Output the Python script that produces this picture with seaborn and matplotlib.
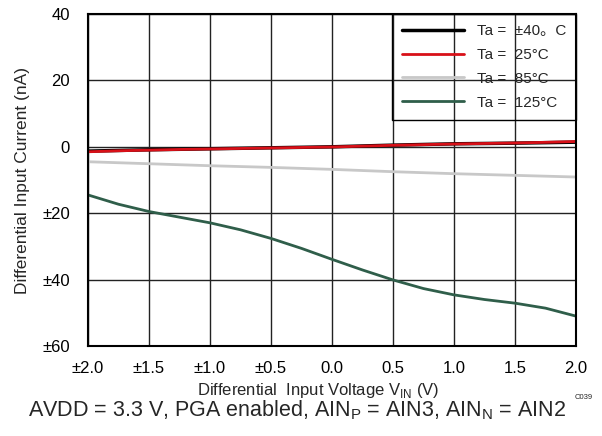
import matplotlib
matplotlib.use("Agg")
import matplotlib.pyplot as plt
import seaborn as sns
import pandas as pd

x_vals = [-2.0, -1.75, -1.5, -1.25, -1.0, -0.75, -0.5, -0.25, 0.0, 0.25, 0.5, 0.75, 1.0, 1.25, 1.5, 1.75, 2.0]
i_m40 = [-1.3, -1.1, -0.9, -0.75, -0.6, -0.45, -0.3, -0.15, 0.0, 0.25, 0.5, 0.7, 0.9, 1.0, 1.1, 1.25, 1.4]
i_25 = [-1.5, -1.2, -1.0, -0.8, -0.65, -0.5, -0.35, -0.2, -0.05, 0.2, 0.45, 0.65, 0.85, 1.0, 1.15, 1.35, 1.6]
i_85 = [-4.5, -4.8, -5.1, -5.4, -5.7, -5.95, -6.2, -6.5, -6.8, -7.15, -7.5, -7.8, -8.1, -8.35, -8.6, -8.85, -9.1]
i_125 = [-14.5, -17.3, -19.5, -21.2, -22.9, -25.0, -27.6, -30.6, -33.9, -37.1, -40.1, -42.7, -44.6, -46.0, -47.1, -48.6, -51.0]

series_names = ["Ta =  \u00b140\u3002C", "Ta =  25\u00b0C", "Ta =  85\u00b0C", "Ta =  125\u00b0C"]
colors = ["#000000", "#d81018", "#c8c8c8", "#2f5e4a"]
widths = [2.5, 2.0, 2.0, 2.0]

x_ticks = [-2.0, -1.5, -1.0, -0.5, 0.0, 0.5, 1.0, 1.5, 2.0]
x_ticklabels = ["\u00b12.0", "\u00b11.5", "\u00b11.0", "\u00b10.5", "0.0", "0.5", "1.0", "1.5", "2.0"]
y_ticks = [40, 20, 0, -20, -40, -60]
y_ticklabels = ["40", "20", "0", "\u00b120", "\u00b140", "\u00b160"]

rows = []
for name, vals in zip(series_names, [i_m40, i_25, i_85, i_125]):
    for xv, yv in zip(x_vals, vals):
        rows.append({"V": xv, "I": yv, "T": name})
df = pd.DataFrame(rows)

sns.set_theme(style="white")
plt.rcParams["font.family"] = ["Liberation Sans", "DejaVu Sans", "Noto Sans CJK SC"]

fig = plt.figure(figsize=(6.02, 4.36), dpi=100)
ax = fig.add_axes([88/602, 1-346/436, (576-88)/602, (346-14)/436])

ax.set_xlim(-2.0, 2.0)
ax.set_ylim(-60, 40)
ax.set_xticks(x_ticks)
ax.set_xticklabels(x_ticklabels)
ax.set_yticks(y_ticks)
ax.set_yticklabels(y_ticklabels)
ax.grid(True, color="#222222", linewidth=1.0)
ax.set_axisbelow(True)

order = [series_names[2], series_names[3], series_names[0], series_names[1]]
for name in order:
    k = series_names.index(name)
    sns.lineplot(data=df[df["T"] == name], x="V", y="I", color=colors[k],
                 linewidth=widths[k], ax=ax, legend=False, label=name)

for s in ax.spines.values():
    s.set_color("black")
    s.set_linewidth(1.5)
ax.tick_params(axis="x", length=0, labelsize=12, colors="black", pad=11)
ax.tick_params(axis="y", length=0, labelsize=12, colors="black", pad=13)

ax.set_xlabel("Differential  Input Voltage V$_{\\mathregular{IN}}$ (V)", fontsize=12)
ax.set_ylabel("Differential Input Current (nA)", fontsize=12.5)
ax.xaxis.set_label_coords(0.471, -0.104)
ax.yaxis.set_label_coords(-0.119, 0.5)

handles, labels = ax.get_legend_handles_labels()
hmap = dict(zip(labels, handles))
leg = ax.legend([hmap[n] for n in series_names], series_names, loc="upper right",
                frameon=True, fancybox=False, edgecolor="black", facecolor="none",
                fontsize=11, handlelength=4.1, labelspacing=0.65, borderpad=0.65,
                borderaxespad=0, framealpha=1)
leg.get_frame().set_linewidth(1.0)

fig.text(584/602, 1-397/436, "C039", fontsize=5.5, ha="center", va="center")
fig.text(297/602, 1-410/436,
         "AVDD = 3.3 V, PGA enabled, AIN$_{\\mathregular{P}}$ = AIN3, AIN$_{\\mathregular{N}}$ = AIN2",
         fontsize=15.5, ha="center", va="center")

fig.savefig("out.png", dpi=100)
